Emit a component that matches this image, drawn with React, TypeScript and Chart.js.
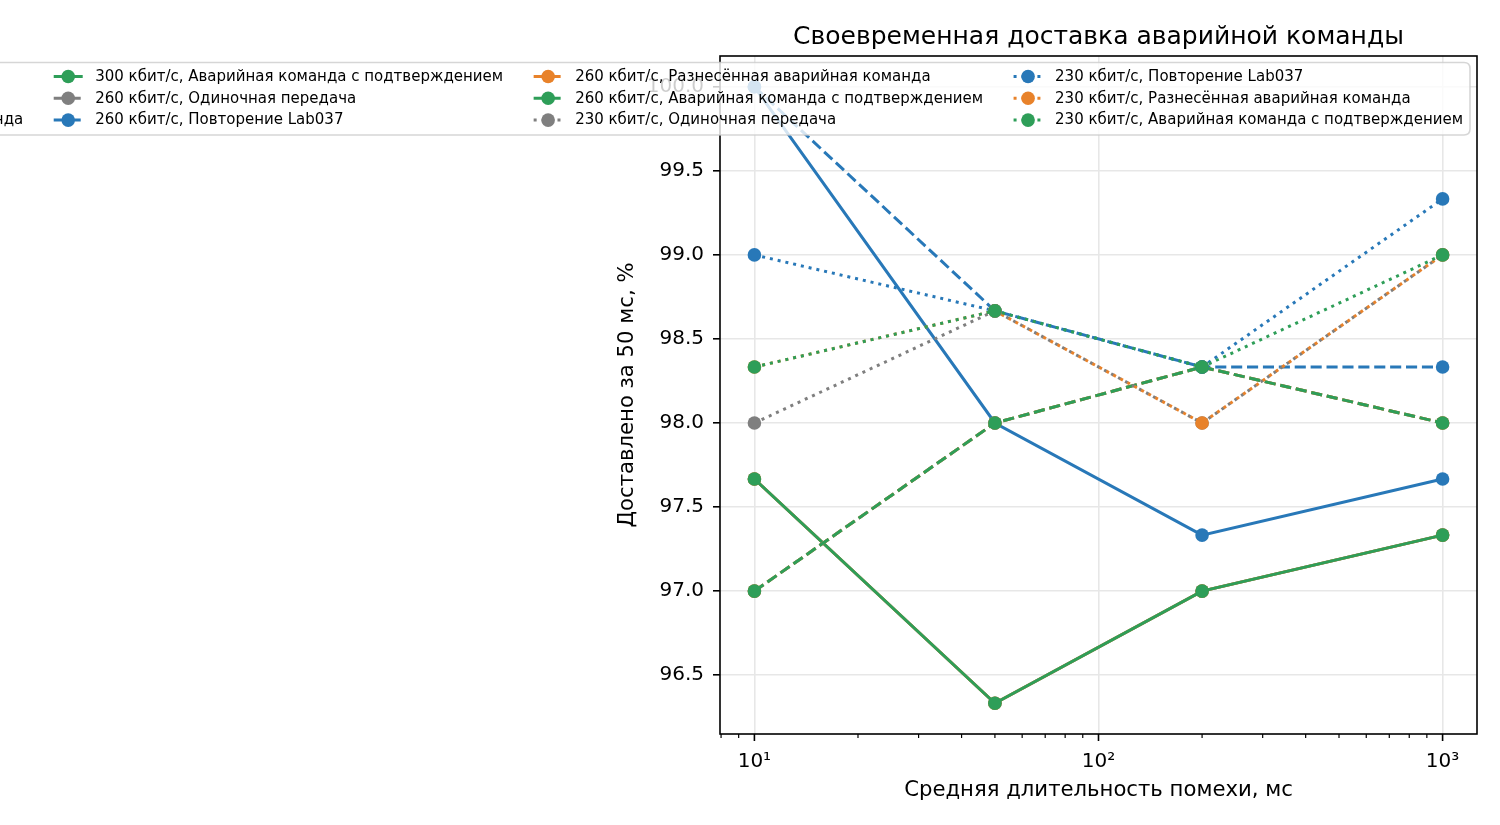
import React, { useEffect, useRef } from 'react';
import { Chart, registerables } from 'chart.js';

Chart.register(...registerables);

const FONT = '"DejaVu Sans", "Noto Sans", sans-serif';

// ---- data ----
const xValues = [10, 50, 200, 1000];
const yTicks = [96.5, 97.0, 97.5, 98.0, 98.5, 99.0, 99.5, 100.0];
const xMajorTicks = [10, 100, 1000];
const xMinorTicks = [8, 9, 20, 30, 40, 50, 60, 70, 80, 90, 200, 300, 400, 500, 600, 700, 800, 900];

const rates = ['300 кбит/с', '260 кбит/с', '230 кбит/с'];
const modes = [
  'Одиночная передача',
  'Повторение Lab037',
  'Разнесённая аварийная команда',
  'Аварийная команда с подтверждением',
];

const r300Single = [97.667, 96.333, 97.0, 97.333];
const r300Repeat = [100.0, 98.0, 97.333, 97.667];
const r300Spaced = [97.667, 96.333, 97.0, 97.333];
const r300Ack = [97.667, 96.333, 97.0, 97.333];

const r260Single = [97.0, 98.0, 98.333, 98.0];
const r260Repeat = [100.0, 98.667, 98.333, 98.333];
const r260Spaced = [97.0, 98.0, 98.333, 98.0];
const r260Ack = [97.0, 98.0, 98.333, 98.0];

const r230Single = [98.0, 98.667, 98.0, 99.0];
const r230Repeat = [99.0, 98.667, 98.333, 99.333];
const r230Spaced = [98.333, 98.667, 98.0, 99.0];
const r230Ack = [98.333, 98.667, 98.333, 99.0];

const titleText = 'Своевременная доставка аварийной команды';
const xTitle = 'Средняя длительность помехи, мс';
const yTitle = 'Доставлено за 50 мс, %';

// ---- styles ----
const modeColors = ['#7f7f7f', '#2878b8', '#e8822a', '#2e9e58'];
const rateDashes: number[][] = [[], [11.1, 4.8], [3, 4.95]];
const gridColor = '#e7e7e7';

const seriesValues = [
  [r300Single, r300Repeat, r300Spaced, r300Ack],
  [r260Single, r260Repeat, r260Spaced, r260Ack],
  [r230Single, r230Repeat, r230Spaced, r230Ack],
];

type Series = { label: string; values: number[]; color: string; dash: number[] };
const series: Series[] = [];
rates.forEach((rate, ri) => {
  modes.forEach((mode, mi) => {
    series.push({
      label: `${rate}, ${mode}`,
      values: seriesValues[ri][mi],
      color: modeColors[mi],
      dash: rateDashes[ri],
    });
  });
});

const SUP: Record<string, string> = { '0': '⁰', '1': '¹', '2': '²', '3': '³', '4': '⁴' };
const isMajor = (v: number) => xMajorTicks.includes(v);
const majorLabel = (v: number) => {
  if (!isMajor(v)) return '';
  const e = String(Math.round(Math.log10(v)));
  return '10' + e.split('').map((c) => SUP[c] ?? c).join('');
};

const LEG_ROWS = 3;
const LEG_COLS = 4;
const HANDLE_LEN = 29;
const TEXT_OFFSET = 41.5;
const COL_SPACING = 30.5;

const decorPlugin = {
  id: 'decor',
  afterDraw(chart: any) {
    const { ctx, chartArea: a, scales } = chart;
    const xs = scales.x;
    ctx.save();
    // x tick marks (major + minor)
    ctx.strokeStyle = '#000';
    xs.ticks.forEach((t: any) => {
      const px = xs.getPixelForValue(t.value);
      const major = isMajor(t.value);
      ctx.lineWidth = major ? 1.6 : 1.2;
      ctx.beginPath();
      ctx.moveTo(px, a.bottom);
      ctx.lineTo(px, a.bottom + (major ? 7 : 4));
      ctx.stroke();
    });
    // spines
    ctx.lineWidth = 1.6;
    ctx.strokeStyle = '#000';
    ctx.strokeRect(a.left, a.top, a.right - a.left, a.bottom - a.top);
    // title
    ctx.fillStyle = '#000';
    ctx.font = `25px ${FONT}`;
    ctx.textAlign = 'center';
    ctx.textBaseline = 'alphabetic';
    ctx.fillText(titleText, (a.left + a.right) / 2, a.top - 12);

    // legend layout: column widths from measured text
    ctx.font = `15px ${FONT}`;
    const colWidths: number[] = [];
    for (let c = 0; c < LEG_COLS; c++) {
      let w = 0;
      for (let r = 0; r < LEG_ROWS; r++) {
        const s = series[c * LEG_ROWS + r];
        if (s) w = Math.max(w, ctx.measureText(s.label).width);
      }
      colWidths.push(w);
    }
    const right = a.right - 7;
    const top = a.top + 6.5;
    const bottom = top + 72.5;
    const colStarts: number[] = new Array(LEG_COLS);
    colStarts[LEG_COLS - 1] = right - 7 - colWidths[LEG_COLS - 1] - TEXT_OFFSET;
    for (let c = LEG_COLS - 2; c >= 0; c--) {
      colStarts[c] = colStarts[c + 1] - (TEXT_OFFSET + colWidths[c] + COL_SPACING);
    }
    const left = colStarts[0] - 14;
    const rad = 6;
    ctx.beginPath();
    ctx.moveTo(left + rad, top);
    ctx.lineTo(right - rad, top);
    ctx.quadraticCurveTo(right, top, right, top + rad);
    ctx.lineTo(right, bottom - rad);
    ctx.quadraticCurveTo(right, bottom, right - rad, bottom);
    ctx.lineTo(left + rad, bottom);
    ctx.quadraticCurveTo(left, bottom, left, bottom - rad);
    ctx.lineTo(left, top + rad);
    ctx.quadraticCurveTo(left, top, left + rad, top);
    ctx.closePath();
    ctx.fillStyle = 'rgba(255,255,255,0.8)';
    ctx.fill();
    ctx.strokeStyle = 'rgba(204,204,204,0.8)';
    ctx.lineWidth = 1.6;
    ctx.stroke();

    const rowGap = 21.8;
    const firstRowY = top + 14;
    ctx.textAlign = 'left';
    ctx.textBaseline = 'middle';
    series.forEach((s, i) => {
      const col = Math.floor(i / LEG_ROWS);
      const row = i % LEG_ROWS;
      const x0 = colStarts[col];
      const y = firstRowY + row * rowGap;
      ctx.strokeStyle = s.color;
      ctx.lineWidth = 3;
      ctx.setLineDash(s.dash);
      ctx.lineCap = 'butt';
      ctx.beginPath();
      ctx.moveTo(x0, y);
      ctx.lineTo(x0 + HANDLE_LEN, y);
      ctx.stroke();
      ctx.setLineDash([]);
      ctx.fillStyle = s.color;
      ctx.beginPath();
      ctx.arc(x0 + HANDLE_LEN / 2, y, 6.8, 0, Math.PI * 2);
      ctx.fill();
      ctx.fillStyle = '#000';
      ctx.fillText(s.label, x0 + TEXT_OFFSET, y + 0.5);
    });
    ctx.restore();
  },
};

export default function App() {
  const ref = useRef<HTMLCanvasElement>(null);
  useEffect(() => {
    const canvas = ref.current;
    if (!canvas) return;
    const chart = new Chart(canvas, {
      type: 'line',
      data: {
        datasets: series.map((s, i) => ({
          label: s.label,
          data: xValues.map((x, j) => ({ x, y: s.values[j] })),
          borderColor: s.color,
          backgroundColor: s.color,
          pointBackgroundColor: s.color,
          pointBorderColor: s.color,
          pointBorderWidth: 0,
          pointRadius: 6.8,
          pointHoverRadius: 6.8,
          borderWidth: 3,
          borderDash: s.dash,
          fill: false,
          tension: 0,
          order: series.length - i,
        })),
      },
      options: {
        animation: false,
        responsive: false,
        events: [],
        layout: { padding: { left: 615, top: 56, right: 23, bottom: 22 } },
        plugins: {
          legend: { display: false },
          title: { display: false },
          tooltip: { enabled: false },
        },
        scales: {
          x: {
            type: 'logarithmic',
            min: Math.pow(10, 0.9),
            max: Math.pow(10, 3.1),
            afterBuildTicks: (sc: any) => {
              sc.ticks = [...xMinorTicks, ...xMajorTicks]
                .sort((p, q) => p - q)
                .map((v) => ({ value: v }));
            },
            afterFit: (sc: any) => {
              sc.height = 69;
            },
            ticks: {
              autoSkip: false,
              maxRotation: 0,
              minRotation: 0,
              padding: 16,
              color: '#000',
              font: { family: FONT, size: 20 },
              callback: (v: any) => majorLabel(Number(v)),
            },
            grid: {
              drawTicks: false,
              color: (c: any) => (c.tick && isMajor(c.tick.value) ? gridColor : 'rgba(0,0,0,0)'),
              lineWidth: 1.6,
            },
            border: { display: false },
            title: {
              display: true,
              text: xTitle,
              color: '#000',
              font: { family: FONT, size: 21.2 },
              padding: 0,
            },
          },
          y: {
            type: 'linear',
            min: 96.15,
            max: 100.183,
            afterBuildTicks: (sc: any) => {
              sc.ticks = yTicks.map((v) => ({ value: v }));
            },
            afterFit: (sc: any) => {
              sc.width = 105;
            },
            ticks: {
              padding: 9,
              color: '#000',
              font: { family: FONT, size: 20 },
              callback: (v: any) => Number(v).toFixed(1),
            },
            grid: {
              color: gridColor,
              lineWidth: 1.6,
              drawTicks: true,
              tickLength: 7,
              tickColor: '#000',
              tickWidth: 1.6,
            },
            border: { display: false },
            title: {
              display: true,
              text: yTitle,
              color: '#000',
              font: { family: FONT, size: 21.2 },
              padding: 0,
            },
          },
        },
      } as any,
      plugins: [decorPlugin],
    });
    return () => chart.destroy();
  }, []);

  return (
    <div style={{ position: 'absolute', left: 0, top: 0, width: 1500, height: 825, background: '#fff' }}>
      <canvas ref={ref} width={1500} height={825} style={{ display: 'block' }} />
    </div>
  );
}
